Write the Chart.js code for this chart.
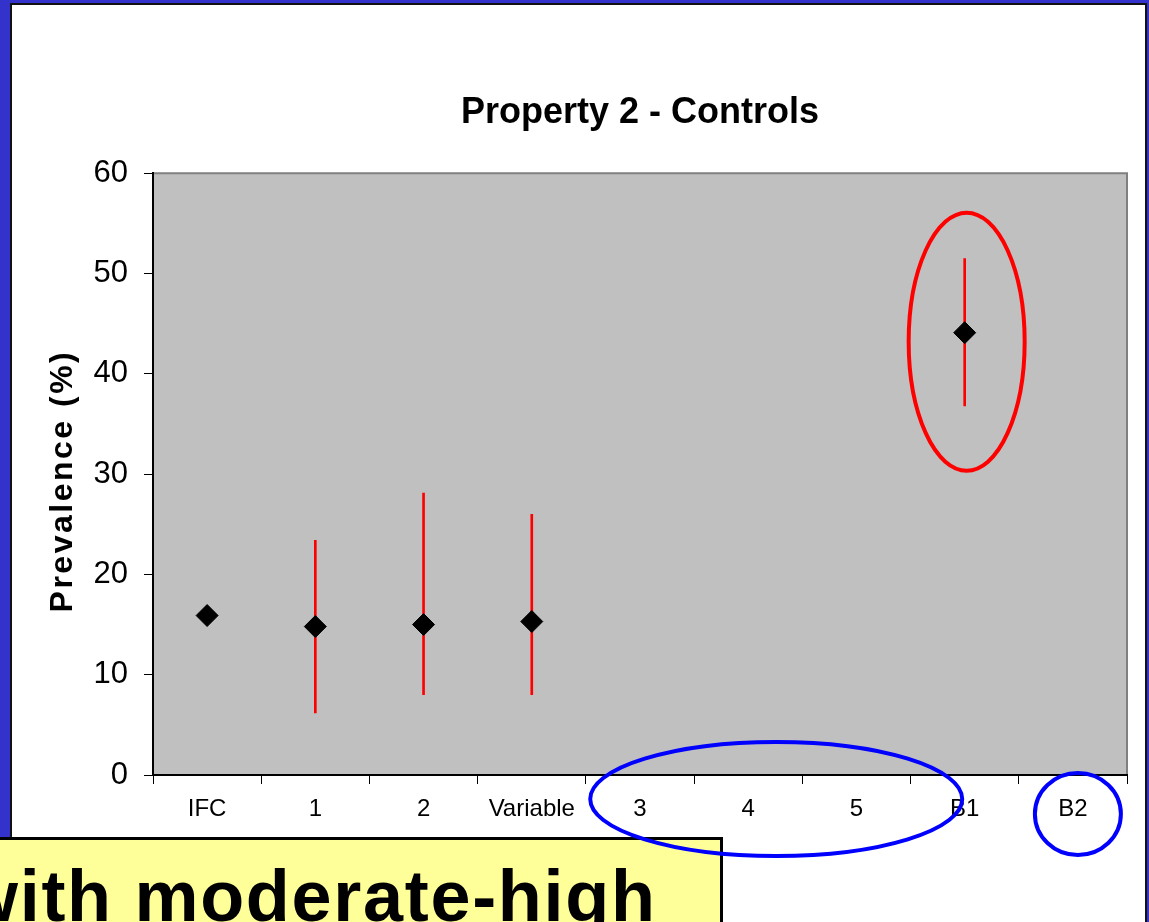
<!DOCTYPE html>
<html>
<head>
<meta charset="utf-8">
<title>Property 2 - Controls</title>
<script src="https://cdn.jsdelivr.net/npm/chart.js@4.4.1/dist/chart.umd.min.js"></script>
<style>
  html, body { margin: 0; padding: 0; }
  body { width: 1149px; height: 922px; background: #3333cc; position: relative; overflow: hidden; font-family: "Liberation Sans", Arial, sans-serif; }
  #slide { position: absolute; left: 10px; top: 3px; width: 1137px; height: 940px; box-sizing: border-box; background: #fff; border: 2px solid #111; }
  #note { position: absolute; left: -3px; top: 837px; width: 726px; height: 120px; box-sizing: border-box; background: #ffff99; border: 3px solid #000; overflow: hidden; }
  #note span { position: absolute; left: -38px; top: 20px; font-weight: bold; font-size: 72px; line-height: 1; letter-spacing: 1.7px; white-space: nowrap; color: #000; }
  #chart { position: absolute; left: 0; top: 0; }
</style>
</head>
<body>
<div id="slide"></div>
<div id="note"><span>with moderate-high</span></div>
<canvas id="chart" width="1149" height="922"></canvas>
<script>
// Values
var categories = ['IFC', '1', '2', 'Variable', '3', '4', '5', 'B1', 'B2'];
var prevalence = [15.9, 14.8, 15.0, 15.3, null, null, null, 44.1, null];
var lowerCI = [null, 6.2, 8.0, 8.0, null, null, null, 36.8, null];
var upperCI = [null, 23.4, 28.1, 26.0, null, null, null, 51.5, null];
var yTicks = [0, 10, 20, 30, 40, 50, 60];

var FONT = '"Liberation Sans", Arial, sans-serif';

// error bars as thin floating bars
var ciBars = categories.map(function (c, i) {
  return lowerCI[i] === null ? null : [lowerCI[i], upperCI[i]];
});

// grey plot area with a darker frame on top/right
var plotBackground = {
  id: 'plotBackground',
  beforeDraw: function (chart) {
    var a = chart.chartArea, ctx = chart.ctx;
    ctx.save();
    ctx.fillStyle = '#c0c0c0';
    ctx.fillRect(a.left, a.top, a.right - a.left, a.bottom - a.top);
    ctx.strokeStyle = '#808080';
    ctx.lineWidth = 2;
    ctx.beginPath();
    ctx.moveTo(a.left, a.top);
    ctx.lineTo(a.right, a.top);
    ctx.lineTo(a.right, a.bottom);
    ctx.stroke();
    ctx.restore();
  }
};

// spaced-out y axis title
var yTitle = {
  id: 'yTitle',
  afterDraw: function (chart) {
    var a = chart.chartArea, ctx = chart.ctx;
    ctx.save();
    ctx.translate(63, (a.top + a.bottom) / 2 + 7);
    ctx.rotate(-Math.PI / 2);
    ctx.font = 'bold 32px ' + FONT;
    ctx.letterSpacing = '2.5px';
    ctx.fillStyle = '#000';
    ctx.textAlign = 'center';
    ctx.textBaseline = 'middle';
    ctx.fillText('Prevalence (%)', 0, 0);
    ctx.restore();
  }
};

// hand-drawn highlight rings
var rings = {
  id: 'rings',
  afterDraw: function (chart) {
    var x = chart.scales.x, y = chart.scales.y, ctx = chart.ctx;
    var bottom = chart.chartArea.bottom;
    ctx.save();
    ctx.lineWidth = 4;

    ctx.strokeStyle = '#ff0000';
    ctx.beginPath();
    ctx.ellipse(x.getPixelForValue(7) + 2, y.getPixelForValue(43.2), 58, 129, 0, 0, Math.PI * 2);
    ctx.stroke();

    ctx.strokeStyle = '#0000ff';
    ctx.beginPath();
    ctx.ellipse((x.getPixelForValue(4) + x.getPixelForValue(6)) / 2 + 28, bottom + 24, 186, 57, 0, 0, Math.PI * 2);
    ctx.stroke();

    ctx.beginPath();
    ctx.ellipse(x.getPixelForValue(8) + 5, bottom + 39, 43, 41, 0, 0, Math.PI * 2);
    ctx.stroke();
    ctx.restore();
  }
};

var chart = new Chart(document.getElementById('chart'), {
  type: 'bar',
  data: {
    labels: categories,
    datasets: [{
      type: 'line',
      label: 'Prevalence',
      data: prevalence,
      showLine: false,
      pointStyle: 'rectRot',
      pointRadius: 11,
      pointBackgroundColor: '#000',
      pointBorderColor: '#000',
      pointBorderWidth: 1,
      order: 0
    }, {
      type: 'bar',
      label: '95% CI',
      data: ciBars,
      backgroundColor: '#ff0000',
      barThickness: 2,
      order: 1
    }]
  },
  options: {
    responsive: false,
    animation: false,
    layout: { padding: { left: 12, right: 22, top: 0, bottom: 0 } },
    plugins: {
      legend: { display: false },
      tooltip: { enabled: false },
      title: {
        display: true,
        text: 'Property 2 - Controls',
        color: '#000',
        fullSize: false,
        font: { family: FONT, size: 36, weight: 'bold' },
        padding: { top: 91, bottom: 39 }
      }
    },
    scales: {
      x: {
        offset: true,
        grid: { drawOnChartArea: false, drawTicks: true, tickLength: 9, color: '#000', offset: true },
        border: { color: '#000', width: 2 },
        ticks: { color: '#000', font: { family: FONT, size: 24 }, padding: 11, maxRotation: 0, autoSkip: false },
        afterFit: function (s) { s.height = 147; }
      },
      y: {
        min: 0,
        max: 60,
        afterBuildTicks: function (s) {
          s.ticks = yTicks.map(function (v) { return { value: v }; });
        },
        grid: { drawOnChartArea: false, drawTicks: true, tickLength: 9, color: '#000' },
        border: { color: '#000', width: 2 },
        ticks: { color: '#000', font: { family: FONT, size: 31 }, padding: 16 },
        afterFit: function (s) { s.width = 141; }
      }
    }
  },
  plugins: [plotBackground, yTitle, rings]
});
</script>
</body>
</html>
